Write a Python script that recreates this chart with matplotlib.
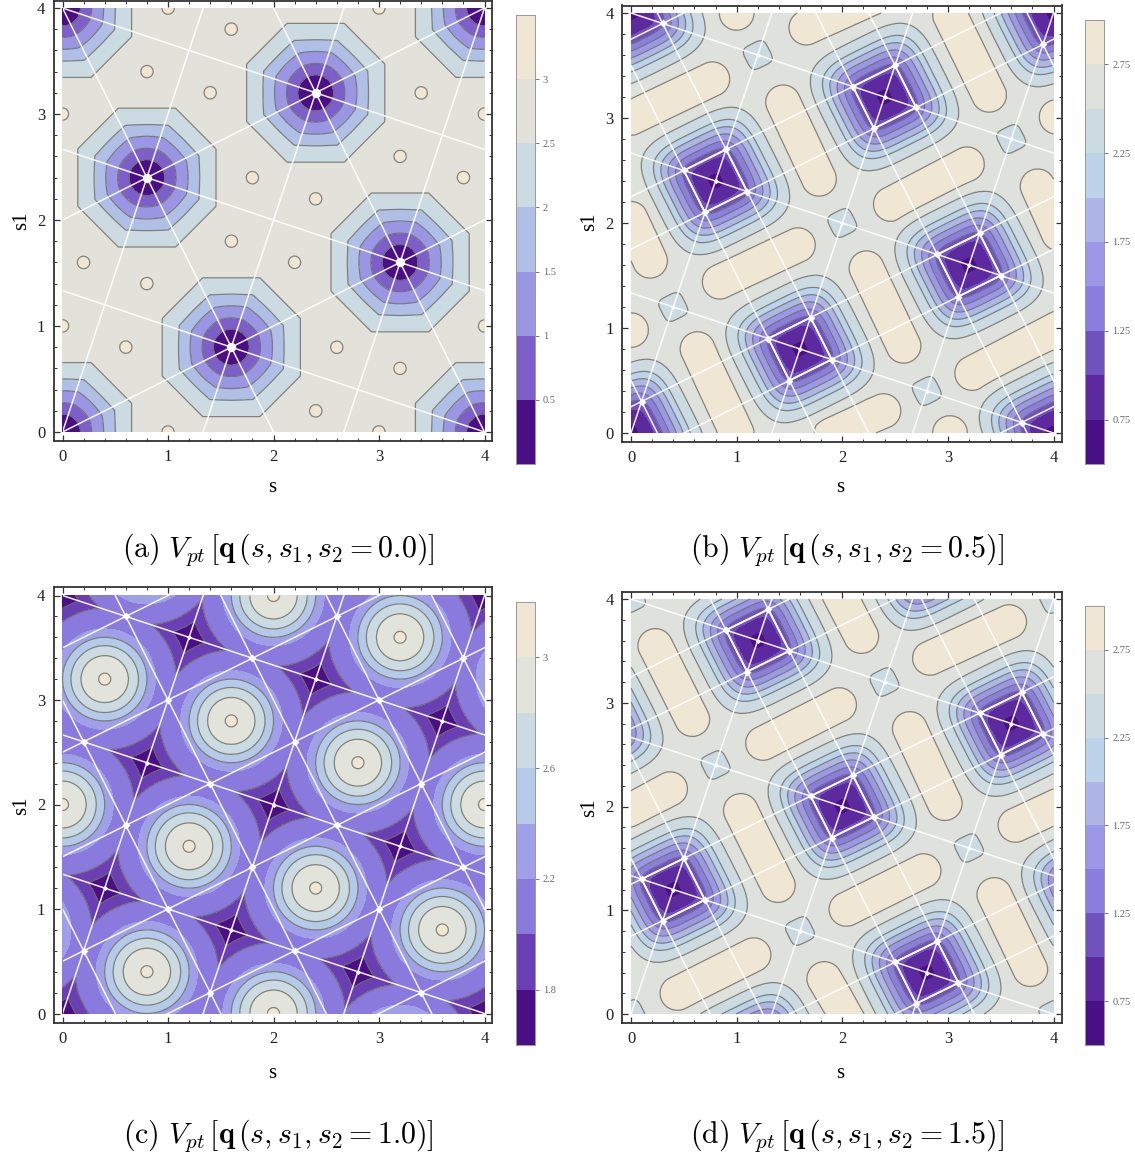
import numpy as np
import matplotlib
matplotlib.use("Agg")
import matplotlib.pyplot as plt
from matplotlib.colors import ListedColormap
from matplotlib.patches import Rectangle

# The contour surfaces are rebuilt from features: well and peak
# centres, capsule end points, and radius/level profiles taken from contour positions.
plt.rcParams["mathtext.fontset"] = "cm"
W, H = 1135, 1156
S = [0, 1, 2, 3, 4]

# ---- panel (a)
a_base = 2.75
a_wells = [(0.8, 2.4), (1.6, 0.8), (2.4, 3.2), (3.2, 1.6), (0, 0), (4, 0), (0, 4), (4, 4)]
a_bumps = [(1, 4), (3, 4), (1.6, 3.8), (0.8, 3.4), (1.4, 3.2), (3.4, 3.2), (0, 3), (4, 3), (3.2, 2.6),
           (1.8, 2.4), (3.8, 2.4), (2.4, 2.2), (1.6, 1.8), (0.2, 1.6), (2.2, 1.6), (0.8, 1.4), (0, 1),
           (4, 1), (0.6, 0.8), (2.6, 0.8), (3.2, 0.6), (2.4, 0.2), (1, 0), (3, 0)]
a_radius = [0, 0.17, 0.276, 0.39, 0.5, 0.655, 0.72, 1.0]
a_level = [0.05, 0.5, 1.0, 1.5, 2.0, 2.5, 2.72, 2.75]
a_bump_d = [0, 0.06, 0.1]
a_bump_v = [3.2, 3.0, 2.75]
a_ticks = [0.5, 1, 1.5, 2, 2.5, 3]
a_bands = [0, 0.5, 1, 1.5, 2, 2.5, 3, 3.5]
a_lined = [0.5, 1, 1.5, 2, 2.5, 3]
a_colors = ["#4a0f85", "#7c5fc8", "#9a96e4", "#b0bfe6", "#ccdae2", "#e2e2da", "#efe6d4"]
a_lines = [(-1/3, 4), (-1/3, 8/3), (-1/3, 4/3), (1/2, 0), (1/2, 2), (3, 0), (3, -4), (3, -8), (-2, 4), (-2, 8)]
a_big = [(0.8, 2.4), (1.6, 0.8), (2.4, 3.2), (3.2, 1.6)]
a_small = []

# ---- panels (b) and (d)
sq_base = 2.62
sq_radius = [0, 0.07, 0.2, 0.27, 0.33, 0.39, 0.45, 0.51, 0.61, 0.72, 1.2]
sq_level = [0.6, 0.75, 1.0, 1.25, 1.5, 1.75, 2.0, 2.25, 2.5, 2.62, 2.62]
caps_d = [0, 0.165, 0.23]
caps_v = [2.95, 2.75, 2.62]
dip_d = [0, 0.12, 0.17]
dip_v = [2.38, 2.5, 2.62]
bd_ticks = [0.75, 1.25, 1.75, 2.25, 2.75]
bd_bands = [0.5, 0.75, 1, 1.25, 1.5, 1.75, 2, 2.25, 2.5, 2.75, 3]
bd_lined = [1.25, 1.5, 1.75, 2, 2.25, 2.5, 2.75]
bd_colors = ["#4a0f85", "#5c2a9e", "#7052bc", "#8a7edf", "#9c97e6", "#adb6e6", "#bcd3ea", "#ccdae2", "#dfe2dc", "#efe6d4"]

b_wells = a_wells
b_dips = [(1.2, 3.6), (3.6, 2.8), (2, 2), (0.4, 1.2), (2.8, 0.4)]
b_caps = [((0.84, 1.44), (1.58, 1.79)), ((0, 3.0), (0.77, 3.37)), ((2.46, 2.18), (3.18, 2.56)),
          ((3.23, 0.57), (4.05, 1.0)), ((1.9, 0), (2.39, 0.21)), ((1.66, 3.86), (2.3, 4.15)),
          ((0.63, 0.8), (1.0, 0.0)), ((2.23, 1.57), (2.58, 0.83)), ((1.44, 3.15), (1.78, 2.42)),
          ((3.02, 3.98), (3.39, 3.22)), ((3.85, 2.35), (4.05, 1.9)), ((0, 2.04), (0.18, 1.64)),
          ((0, 0.98), (-0.05, 0.98)), ((4.03, 3.01), (4.05, 3.01)), ((1.0, 4.0), (1.0, 4.05)),
          ((3.02, 0), (3.02, -0.05))]
b_lines = [(-1/3, 4), (-1/3, 8/3), (-1/3, 4/3),
           (1/2, 0.25), (1/2, -0.25), (1/2, 1.75), (1/2, 2.25), (1/2, 3.75), (1/2, -1.75),
           (-2, 0.5), (-2, 3.5), (-2, 4.5), (-2, 7.5), (-2, 8.5), (-2, 11.5),
           (3, 0), (3, -4), (3, -8)]
b_big = [(.1, .3), (.3, 3.9), (.5, 2.5), (.7, 2.1), (.9, 2.7), (1.1, 2.3), (1.3, .9), (1.5, .5), (1.7, 1.1),
         (1.9, .7), (2.1, 3.3), (2.3, 2.9), (2.5, 3.5), (2.7, 3.1), (2.9, 1.7), (3.1, 1.3), (3.3, 1.9),
         (3.5, 1.5), (3.7, .1), (3.9, 3.7)]
b_squares = [[(.5, 2.5), (.9, 2.7), (1.1, 2.3), (.7, 2.1)], [(1.3, .9), (1.7, 1.1), (1.9, .7), (1.5, .5)],
             [(2.1, 3.3), (2.5, 3.5), (2.7, 3.1), (2.3, 2.9)], [(2.9, 1.7), (3.3, 1.9), (3.5, 1.5), (3.1, 1.3)]]
nodes_small = [(.4, 1.2), (.8, 2.4), (1.2, 3.6), (1.6, .8), (2, 2), (2.4, 3.2), (2.8, .4), (3.2, 1.6), (3.6, 2.8)]

d_wells = [(0.4, 1.2), (2, 2), (3.6, 2.8), (1.2, 3.6), (2.8, 0.4), (1.2, -0.4), (2.8, 4.4), (-0.4, 2.8), (4.4, 1.2)]
d_dips = [(2.4, 3.2), (0.8, 2.4), (3.2, 1.6), (1.6, 0.8), (0, 0), (4, 0), (0, 4), (4, 4)]
d_caps = [((0.44, 0.2), (1.16, 0.57)), ((2.04, 1.01), (2.77, 1.38)), ((1.25, 2.61), (1.97, 2.98)),
          ((2.83, 3.43), (3.58, 3.78)), ((-0.01, 1.96), (0.37, 2.17)), ((3.64, 1.82), (4.04, 2.01)),
          ((0.23, 3.55), (0.58, 2.84)), ((1.04, 1.96), (1.39, 1.24)), ((2.64, 2.75), (2.97, 2.03)),
          ((3.44, 1.15), (3.78, 0.43)), ((1.83, 0.34), (2.08, -0.09)), ((1.97, 4.05), (2.18, 3.64))]
d_lines = [(-1/3, 4), (-1/3, 8/3), (-1/3, 4/3),
           (1/2, -1.25), (1/2, -0.75), (1/2, 0.75), (1/2, 1.25), (1/2, 2.75), (1/2, 3.25),
           (-2, 1.5), (-2, 2.5), (-2, 5.5), (-2, 6.5), (-2, 9.5), (-2, 10.5),
           (3, 0), (3, -4), (3, -8)]
d_big = [(.1, 1.3), (.3, .9), (.5, 1.5), (.7, 1.1), (.9, 3.7), (1.1, 3.3), (1.3, 3.9), (1.5, 3.5), (1.7, 2.1),
         (1.9, 1.7), (2.1, 2.3), (2.3, 1.9), (2.5, .5), (2.7, .1), (2.9, .7), (3.1, .3), (3.3, 2.9), (3.5, 2.5),
         (3.7, 3.1), (3.9, 2.7)]
d_squares = [[(.1, 1.3), (.5, 1.5), (.7, 1.1), (.3, .9)], [(.9, 3.7), (1.3, 3.9), (1.5, 3.5), (1.1, 3.3)],
             [(1.7, 2.1), (2.1, 2.3), (2.3, 1.9), (1.9, 1.7)], [(2.5, .5), (2.9, .7), (3.1, .3), (2.7, .1)],
             [(3.3, 2.9), (3.7, 3.1), (3.9, 2.7), (3.5, 2.5)]]

# ---- panel (c)
c_peaks = [(0.8, 0.4), (2, 0), (3.6, 0.8), (2.4, 1.2), (1.2, 1.6), (0, 2), (4, 2), (2.8, 2.4), (1.6, 2.8),
           (0.4, 3.2), (3.2, 3.6), (2, 4), (0.8, 4.4), (3.2, -0.4), (-0.4, 0.8), (4.4, 3.2),
           (3.6, 4.8), (4.8, 4.4), (4.4, -0.8), (4.8, 0.4), (-0.4, 4.8), (-0.8, 3.6), (0.4, -0.8), (-0.8, -0.4)]
c_radius = [0, 0.057, 0.225, 0.32, 0.40, 0.48, 0.68, 0.785, 0.9]
c_level = [3.08, 3.0, 2.8, 2.6, 2.4, 2.2, 2.0, 1.8, 1.65]
c_ticks = [1.8, 2.2, 2.6, 3]
c_bands = [1.6, 1.8, 2, 2.2, 2.4, 2.6, 2.8, 3, 3.2]
c_lined = [1.8, 2, 2.4, 2.6, 2.8, 3]
c_colors = ["#4a0f85", "#6a3fb4", "#8a7ade", "#a0a0e8", "#b5cae8", "#ccdbe2", "#e2e3da", "#efe6d4"]
c_lines = [(-1/3, 4), (-1/3, 8/3), (-1/3, 4/3),
           (1/2, -1.5), (1/2, -0.5), (1/2, 0.5), (1/2, 1.5), (1/2, 2.5), (1/2, 3.5),
           (-2, 1), (-2, 3), (-2, 5), (-2, 7), (-2, 9), (-2, 11),
           (3, 0), (3, -4), (3, -8)]
c_big = [(.2, .6), (.6, 1.8), (.2, 2.6), (1, 1), (1.4, .2), (1.8, 1.4), (1, 3), (1.4, 2.2), (.6, 3.8), (1.8, 3.4),
         (2.2, .6), (2.6, 1.8), (2.2, 2.6), (3, 1), (3.4, .2), (3.8, 1.4), (3, 3), (3.4, 2.2), (2.6, 3.8), (3.8, 3.4)]

grid = np.linspace(0, 4, 500)
X, Y = np.meshgrid(grid, grid)


def octagon_field():
    V = np.full(X.shape, a_base)
    for cx, cy in a_wells:
        dx, dy = np.abs(X - cx), np.abs(Y - cy)
        e = np.hypot(dx, dy)
        o = np.maximum(np.maximum(dx, dy), (dx + dy) / np.sqrt(2))
        w = np.clip((e - 0.2) / 0.4, 0, 1)
        V += np.interp(e * (1 - w) + o * w, a_radius, a_level) - a_base
    for cx, cy in a_bumps:
        V += np.interp(np.hypot(X - cx, Y - cy), a_bump_d, a_bump_v) - a_base
    return V


def square_field(wells, dips, caps):
    cap = np.full(X.shape, sq_base)
    for (x0, y0), (x1, y1) in caps:
        ex, ey = x1 - x0, y1 - y0
        t = np.clip(((X - x0) * ex + (Y - y0) * ey) / (ex * ex + ey * ey), 0, 1)
        cap = np.maximum(cap, np.interp(np.hypot(X - x0 - t * ex, Y - y0 - t * ey), caps_d, caps_v))
    V = cap
    for cx, cy in dips:
        dx, dy = X - cx, Y - cy
        u, v = (2 * dx + dy) / np.sqrt(5), (-dx + 2 * dy) / np.sqrt(5)
        V = V + np.interp((u ** 4 + v ** 4) ** 0.25, dip_d, dip_v) - sq_base
    for cx, cy in wells:
        dx, dy = X - cx, Y - cy
        u, v = (2 * dx + dy) / np.sqrt(5), (-dx + 2 * dy) / np.sqrt(5)
        V = V + np.interp((u ** 4 + v ** 4) ** 0.25, sq_radius, sq_level) - sq_base
    return V


def ring_field():
    d = np.min([np.hypot(X - cx, Y - cy) for cx, cy in c_peaks], axis=0)
    return np.interp(d, c_radius, c_level)


def box(l, t, r, b):
    return [l / W, 1 - b / H, (r - l) / W, (b - t) / H]


def panel(V, bands, cols, lined, ticks, lines, squares, big, small, big_size, frame, x0px, x4px, y4px, y0px,
          bar, cap, cap_xy, sx, s1xy):
    l, t, r, b = frame
    ax = fig.add_axes(box(l, t, r, b))
    sx_per = (x4px - x0px) / 4
    sy_per = (y0px - y4px) / 4
    ax.set_xlim((l - x0px) / sx_per, (r - x0px) / sx_per)
    ax.set_ylim((y0px - b) / sy_per, (y0px - t) / sy_per)
    n = len(bands) - 1
    ax.contourf(X, Y, V, levels=bands, colors=cols, extend="neither", zorder=1)
    ax.contour(X, Y, V, levels=lined, colors="#6a6a64", linewidths=0.9, alpha=0.8, zorder=2)
    clip = Rectangle((0, 0), 4, 4, transform=ax.transData)
    xs = np.array([-1.0, 5.0])
    for m, c in lines:
        ln, = ax.plot(xs, m * xs + c, color="white", lw=1.1, alpha=0.92, zorder=3)
        ln.set_clip_path(clip)
    for sq in squares:
        px, py = zip(*(sq + sq[:1]))
        ax.plot(px, py, color="white", lw=1.4, alpha=0.9, zorder=3)
    if big:
        ax.scatter(*zip(*big), s=big_size, c="white", marker="D" if big_size < 40 else "o", lw=0, zorder=4)
    if small:
        ax.scatter(*zip(*small), s=7, c="white", marker="D", lw=0, zorder=4)
    ax.set_xticks(S)
    ax.set_yticks(S)
    ax.set_xticks(np.arange(0, 4.01, 0.2), minor=True)
    ax.set_yticks(np.arange(0, 4.01, 0.2), minor=True)
    ax.tick_params(which="major", direction="in", length=4, width=0.9, top=True, right=True,
                   labelsize=12, pad=6, color="#333333", labelcolor="#222222")
    ax.tick_params(which="minor", direction="in", length=2, width=0.7, top=True, right=True, color="#333333")
    for lab in ax.get_xticklabels() + ax.get_yticklabels():
        lab.set_family("Liberation Serif")
    for sp in ax.spines.values():
        sp.set_linewidth(1.3)
        sp.set_color("#333333")
    fig.text(sx[0] / W, 1 - sx[1] / H, "s", family="Liberation Serif", fontsize=15, ha="center", va="center")
    fig.text(s1xy[0] / W, 1 - s1xy[1] / H, "s1", family="Liberation Serif", fontsize=15, rotation=90,
             ha="center", va="center")

    cax = fig.add_axes(box(*bar))
    cax.pcolormesh([0, 1], bands, np.arange(n).reshape(-1, 1), cmap=ListedColormap(cols), shading="flat")
    cax.set_xticks([])
    cax.yaxis.tick_right()
    cax.set_yticks(ticks)
    cax.set_yticklabels([f"{v:g}" for v in ticks], family="Liberation Serif", fontsize=7.5, color="#666666")
    cax.tick_params(axis="y", direction="out", length=3, width=0.7, color="#777777", pad=3)
    for sp in cax.spines.values():
        sp.set_linewidth(0.7)
        sp.set_color("#999999")
    fig.text(cap_xy[0] / W, 1 - cap_xy[1] / H, cap, fontsize=21.5, ha="center", va="center", math_fontfamily="cm")


fig = plt.figure(figsize=(W / 100, H / 100), dpi=100, facecolor="white")

panel(octagon_field(), a_bands, a_colors, a_lined, a_ticks, a_lines, [], a_big, a_small, 45,
      (53.5, 1, 492, 441), 62.5, 484.5, 8, 432, (516, 15, 534.5, 464),
      r"$\mathrm{(a)}\ V_{pt}\,[\mathbf{q}\,(s,s_1,s_2=0.0)]$", (278, 550), (272, 487), (22, 221))
panel(square_field(b_wells, b_dips, b_caps), bd_bands, bd_colors, bd_lined, bd_ticks, b_lines, b_squares, b_big,
      nodes_small, 16, (622, 5.5, 1062, 442), 631, 1053.5, 13, 433, (1085, 20, 1104, 464),
      r"$\mathrm{(b)}\ V_{pt}\,[\mathbf{q}\,(s,s_1,s_2=0.5)]$", (847, 550), (840, 487), (590, 222))
panel(ring_field(), c_bands, c_colors, c_lined, c_ticks, c_lines, [], c_big, nodes_small, 16,
      (53.5, 587, 492, 1022.5), 62.5, 484.5, 595.5, 1013.5, (516, 602, 534.5, 1045),
      r"$\mathrm{(c)}\ V_{pt}\,[\mathbf{q}\,(s,s_1,s_2=1.0)]$", (278, 1136), (272, 1073), (22, 806))
panel(square_field(d_wells, d_dips, d_caps), bd_bands, bd_colors, bd_lined, bd_ticks, d_lines, d_squares, d_big,
      nodes_small, 16, (622, 591.5, 1062, 1023), 631, 1053.5, 599, 1014, (1085, 606, 1104, 1045),
      r"$\mathrm{(d)}\ V_{pt}\,[\mathbf{q}\,(s,s_1,s_2=1.5)]$", (847, 1136), (840, 1073), (590, 808))

fig.savefig("out.png", dpi=100, facecolor="white")
